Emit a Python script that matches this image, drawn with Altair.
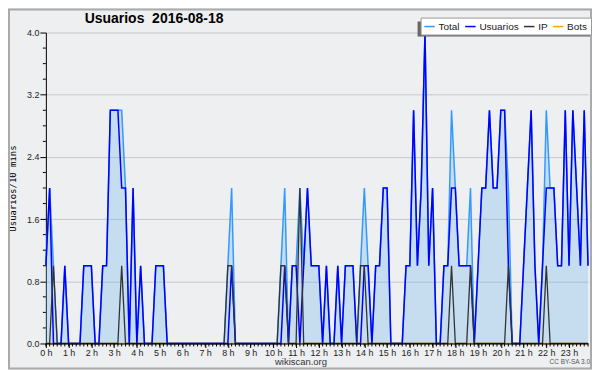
import altair as alt
import pandas as pd

# 10-minute slots of the day (0 = 00:00 ... 143 = 23:50)
slots = list(range(144))
hour_ticks = list(range(0, 144, 6))

usuarios = [
    1, 2, 0, 0, 0, 1, 0, 0, 0, 0, 1, 1, 1, 0, 0, 1, 1, 3, 3, 3, 2, 2, 0, 2,
    0, 1, 0, 0, 0, 1, 1, 1, 0, 0, 0, 0, 0, 0, 0, 0, 0, 0, 0, 0, 0, 0, 0, 0,
    0, 1, 0, 0, 0, 0, 0, 0, 0, 0, 0, 0, 0, 0, 0, 1, 0, 1, 1, 0, 1, 2, 1, 1,
    1, 0, 1, 0, 0, 1, 0, 1, 1, 1, 0, 0, 1, 1, 0, 1, 1, 2, 2, 0, 0, 0, 0, 1,
    1, 3, 1, 2, 4, 1, 2, 0, 0, 1, 1, 2, 2, 1, 1, 1, 1, 0, 1, 2, 2, 3, 2, 2,
    3, 3, 1, 0, 0, 0, 1, 2, 3, 1, 0, 1, 2, 2, 2, 1, 1, 3, 1, 3, 2, 1, 3, 1,
]
ip = [
    0, 0, 1, 0, 0, 0, 0, 0, 0, 0, 0, 0, 0, 0, 0, 0, 0, 0, 0, 0, 1, 0, 0, 0,
    0, 0, 0, 0, 0, 0, 0, 0, 0, 0, 0, 0, 0, 0, 0, 0, 0, 0, 0, 0, 0, 0, 0, 0,
    1, 1, 0, 0, 0, 0, 0, 0, 0, 0, 0, 0, 0, 0, 1, 1, 0, 0, 0, 2, 0, 0, 0, 0,
    0, 0, 0, 0, 0, 0, 0, 0, 0, 0, 0, 1, 1, 0, 0, 0, 0, 0, 0, 0, 0, 0, 0, 0,
    0, 0, 0, 0, 0, 0, 0, 0, 0, 0, 0, 1, 0, 0, 0, 0, 1, 0, 0, 0, 0, 0, 0, 0,
    0, 0, 1, 0, 0, 0, 0, 0, 0, 0, 0, 0, 1, 0, 0, 0, 0, 0, 0, 0, 0, 0, 0, 0,
]
total = [
    1, 2, 1, 0, 0, 1, 0, 0, 0, 0, 1, 1, 1, 0, 0, 1, 1, 3, 3, 3, 3, 2, 0, 2,
    0, 1, 0, 0, 0, 1, 1, 1, 0, 0, 0, 0, 0, 0, 0, 0, 0, 0, 0, 0, 0, 0, 0, 0,
    1, 2, 0, 0, 0, 0, 0, 0, 0, 0, 0, 0, 0, 0, 1, 2, 0, 1, 1, 2, 1, 2, 1, 1,
    1, 0, 1, 0, 0, 1, 0, 1, 1, 1, 0, 1, 2, 1, 0, 1, 1, 2, 2, 0, 0, 0, 0, 1,
    1, 3, 1, 2, 4, 1, 2, 0, 0, 1, 1, 3, 2, 1, 1, 1, 2, 0, 1, 2, 2, 3, 2, 2,
    3, 3, 2, 0, 0, 0, 1, 2, 3, 1, 0, 1, 3, 2, 2, 1, 1, 3, 1, 3, 2, 1, 3, 1,
]
bots = [0] * 144

series_names = ["Total", "Usuarios", "IP", "Bots"]
series_colors = ["#3399ff", "#0000ff", "#333333", "#ffa500"]
y_major = [0.0, 0.8, 1.6, 2.4, 3.2, 4.0]
y_minor = [0.2, 0.4, 0.6, 1.0, 1.2, 1.4, 1.8, 2.0, 2.2, 2.6, 2.8, 3.0, 3.4, 3.6, 3.8]

rows = []
for name, vals in zip(series_names, [total, usuarios, ip, bots]):
    for s, v in zip(slots, vals):
        rows.append({"slot": s, "serie": name, "value": v})
df = pd.DataFrame(rows)

W, H = 544, 312
BG = "#eeeff0"
FONT = "Liberation Sans"

xscale = alt.Scale(domain=[0, 143], nice=False, zero=False)
yscale = alt.Scale(domain=[0, 4], nice=False)

x_axis = alt.Axis(
    values=hour_ticks, labelExpr="datum.value / 6 + ' h'", title=None,
    grid=False, tickSize=4, tickColor="black", domainColor="black",
    labelFont=FONT, labelFontSize=9, labelColor="#222", labelPadding=1,
    labelFlush=False, labelOverlap=False, zindex=1,
)
y_axis = alt.Axis(
    values=y_major, format=".1f", title="Usuarios/10 mins",
    grid=True, gridColor="#c8c8c8", tickSize=6, tickColor="black",
    domainColor="black", labelFont=FONT, labelFontSize=9, labelColor="#222",
    labelPadding=1, titleFont="DejaVu Sans Mono", titleFontSize=9,
    titleFontWeight="normal", titleColor="black", titleX=-33, titleY=H / 2,
    titleAngle=270, titleAlign="center", titleBaseline="middle",
)

x_enc = alt.X("slot:Q", scale=xscale, axis=x_axis)
y_enc = alt.Y("value:Q", scale=yscale, axis=y_axis)
color_enc = alt.Color(
    "serie:N",
    scale=alt.Scale(domain=series_names, range=series_colors),
    legend=alt.Legend(
        title=None, orient="none", legendX=376, legendY=-15,
        direction="horizontal", columns=4, symbolType="stroke",
        symbolStrokeWidth=1.5, symbolSize=110, labelFont=FONT,
        labelFontSize=10, labelColor="#222", fillColor="white",
        strokeColor="#999", padding=3, columnPadding=1, labelOffset=3,
    ),
)

base = alt.Chart(df)

area = base.transform_filter(alt.datum.serie == "Total").mark_area(
    color="#68b3f0", opacity=0.3
).encode(x=x_enc, y=y_enc)

def line(name, width):
    return base.transform_filter(alt.datum.serie == name).mark_line(
        strokeWidth=width
    ).encode(x=x_enc, y=y_enc, color=color_enc)

lines = [line("Bots", 1.5), line("Total", 1.5), line("Usuarios", 1.5), line("IP", 1.3)]

minor_x = alt.Chart(pd.DataFrame({"slot": slots})).mark_rule(
    color="black", strokeWidth=1
).encode(x=x_enc, y=alt.value(H), y2=alt.value(H + 3))

minor_y = alt.Chart(pd.DataFrame({"value": y_minor})).mark_rule(
    color="black", strokeWidth=1
).encode(y=y_enc, x=alt.value(-3), x2=alt.value(0))

one = pd.DataFrame({
    "t": ["wikiscan.org"], "c": ["CC BY-SA 3.0"],
    "title": ["Usuarios\u00a0\u00a02016-08-18"],
})

shadow = alt.Chart(one).mark_rect(color="#666666").encode(
    x=alt.value(373), x2=alt.value(547), y=alt.value(-11), y2=alt.value(4)
)

border = alt.Chart(one).mark_rect(fill=None, stroke="#aaaaaa", strokeWidth=2).encode(
    x=alt.value(-37), x2=alt.value(W + 3), y=alt.value(-23), y2=alt.value(H + 25)
)

title = alt.Chart(one).mark_text(
    font=FONT, fontSize=14, fontWeight="bold", color="black",
    align="left", baseline="alphabetic"
).encode(x=alt.value(39), y=alt.value(-10), text="title:N")

site = alt.Chart(one).mark_text(
    font=FONT, fontSize=9.5, color="#333", align="center", baseline="alphabetic"
).encode(x=alt.value(256), y=alt.value(334), text="t:N")

lic = alt.Chart(one).mark_text(
    font=FONT, fontSize=6.5, color="#555", align="right", baseline="alphabetic"
).encode(x=alt.value(546), y=alt.value(333), text="c:N")

chart = alt.layer(
    area, *lines, minor_x, minor_y, shadow, title, site, lic, border
).properties(
    width=W, height=H, autosize="none",
    padding={"left": 38, "top": 24, "right": 4, "bottom": 26},
    background=BG,
).configure_view(stroke=None, fill=BG)

chart.save("out.html", embed_options={"renderer": "svg", "actions": False})
